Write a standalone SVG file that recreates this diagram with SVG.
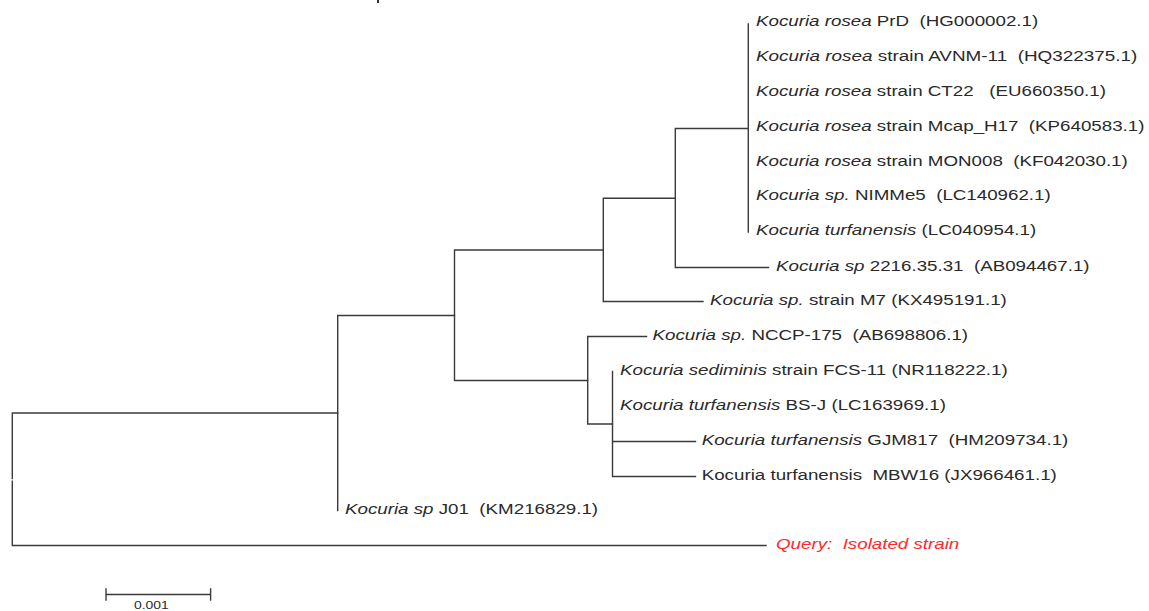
<svg xmlns="http://www.w3.org/2000/svg" width="1149" height="611" viewBox="0 0 1149 611">
<style>
.bg{fill:#ffffff}
.br{fill:none;stroke:#3a3a3a;stroke-width:1.4;stroke-linecap:square}
.lbl{font-family:"Liberation Sans",Arial,sans-serif;font-size:15.5px;fill:#2a2a2a;white-space:pre}
.it{font-style:italic}
.q{fill:#ff2a2a;font-style:italic}
.sc{font-family:"Liberation Sans",Arial,sans-serif;font-size:11.5px;fill:#2a2a2a}
</style>
<rect class="bg" x="0" y="0" width="1149" height="611"/>
<rect x="377" y="0" width="2" height="3" fill="#333"/>
<g id="connectors">
<path class="br" d="M748.3,24 V232"/>
<path class="br" d="M675.3,128.5 H748.3 M675.3,128.5 V267.5 M675.3,267.5 H768.5"/>
<path class="br" d="M603.3,198.3 H675.3 M603.3,198.3 V301.5 M603.3,301.5 H703"/>
<path class="br" d="M454.5,250 H603.3 M454.5,250 V380.5 M454.5,380.5 H587.7"/>
<path class="br" d="M587.7,336.5 H646.5 M587.7,336.5 V424 M587.7,424 H612.5"/>
<path class="br" d="M612.5,371.5 V476.5 M612.5,441.5 H695.5 M612.5,476.5 H695.5"/>
<path class="br" d="M337.7,315.5 H454.5 M337.7,315.5 V510.5"/>
<path class="br" d="M12.3,413 H337.7 M12.3,413 V478.6 M12.3,481.2 V545.5 M12.3,545.5 H766"/>
</g>
<g id="n1"><text class="lbl" transform="translate(756,26) scale(1.21,1)"><tspan class="it">Kocuria rosea</tspan> PrD  (HG000002.1)</text></g>
<g id="n2"><text class="lbl" transform="translate(756,61) scale(1.22,1)"><tspan class="it">Kocuria rosea</tspan> strain AVNM-11  (HQ322375.1)</text></g>
<g id="n3"><text class="lbl" transform="translate(756,95.7) scale(1.21,1)"><tspan class="it">Kocuria rosea</tspan> strain CT22   (EU660350.1)</text></g>
<g id="n4"><text class="lbl" transform="translate(756,130.5) scale(1.21,1)"><tspan class="it">Kocuria rosea</tspan> strain Mcap_H17  (KP640583.1)</text></g>
<g id="n5"><text class="lbl" transform="translate(756,165.5) scale(1.21,1)"><tspan class="it">Kocuria rosea</tspan> strain MON008  (KF042030.1)</text></g>
<g id="n6"><text class="lbl" transform="translate(756,200.3) scale(1.21,1)"><tspan class="it">Kocuria sp.</tspan> NIMMe5  (LC140962.1)</text></g>
<g id="n7"><text class="lbl" transform="translate(756,235.1) scale(1.21,1)"><tspan class="it">Kocuria turfanensis</tspan> (LC040954.1)</text></g>
<g id="n8"><text class="lbl" transform="translate(776,271) scale(1.21,1)"><tspan class="it">Kocuria sp</tspan> 2216.35.31  (AB094467.1)</text></g>
<g id="n9"><text class="lbl" transform="translate(710,305) scale(1.21,1)"><tspan class="it">Kocuria sp.</tspan> strain M7 (KX495191.1)</text></g>
<g id="n10"><text class="lbl" transform="translate(652.5,340) scale(1.21,1)"><tspan class="it">Kocuria sp.</tspan> NCCP-175  (AB698806.1)</text></g>
<g id="n11"><text class="lbl" transform="translate(620,375) scale(1.21,1)"><tspan class="it">Kocuria sediminis</tspan> strain FCS-11 (NR118222.1)</text></g>
<g id="n12"><text class="lbl" transform="translate(620,409.7) scale(1.21,1)"><tspan class="it">Kocuria turfanensis</tspan> BS-J (LC163969.1)</text></g>
<g id="n13"><text class="lbl" transform="translate(701.7,445) scale(1.21,1)"><tspan class="it">Kocuria turfanensis</tspan> GJM817  (HM209734.1)</text></g>
<g id="n14"><text class="lbl" transform="translate(701.7,480) scale(1.21,1)">Kocuria turfanensis  MBW16 (JX966461.1)</text></g>
<g id="n15"><text class="lbl" transform="translate(345,514) scale(1.21,1)"><tspan class="it">Kocuria sp</tspan> J01  (KM216829.1)</text></g>
<g id="n16"><text class="lbl q" transform="translate(776,549) scale(1.21,1)">Query:  Isolated strain</text></g>
<g id="scalebar">
<path class="br" d="M106,594.5 H210.6 M106,589 V600 M210.6,589 V600"/>
<text class="sc" transform="translate(134,608.5) scale(1.21,1)">0.001</text>
</g>
</svg>
